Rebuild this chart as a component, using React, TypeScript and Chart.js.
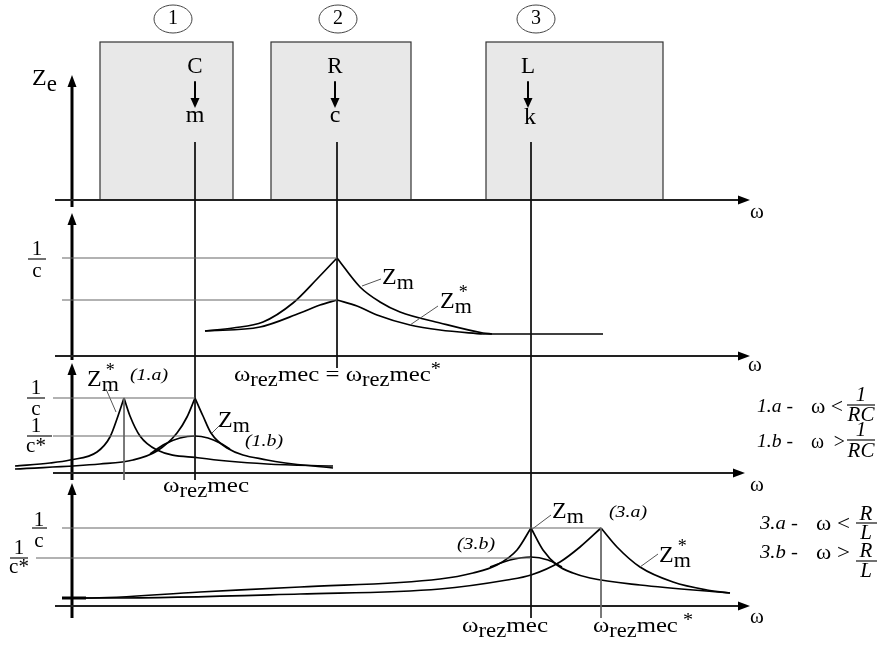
import React, { useEffect, useRef } from "react";
import { Chart, registerables } from "chart.js";
Chart.register(...registerables);

const W = 880;
const H = 645;
const FONT = '"Liberation Serif", "DejaVu Serif", serif';

// ---------- curves: [ω, Z] in diagram units ----------
// Panel 2 (R -> c)
const p2ZmRise = [[205, 331], [233, 328], [263, 322], [293, 303], [317, 279], [337, 258]];
const p2ZmFall = [[337, 258], [360, 287], [380, 302], [400, 312], [440, 323], [483, 333], [492, 334]];
const p2ZsRise = [[205, 331], [260, 327], [300, 313], [320, 305], [337, 300]];
const p2ZsFall = [[337, 300], [357, 306], [377, 315], [410, 325], [440, 330], [483, 334]];
const p2Tail = [[483, 334], [603, 334]];
// Panel 3 (C -> m)
const p3ZsRise = [[15, 466], [50, 463], [70, 460], [97, 452], [110, 437], [118, 416], [124, 398]];
const p3ZsFall = [[124, 398], [130, 416], [140, 436], [157, 450], [200, 458], [267, 464], [333, 466]];
const p3ZmRise = [[15, 469], [100, 464], [133, 460], [157, 451], [177, 433], [187, 417], [195, 398]];
const p3ZmFall = [[195, 398], [203, 416], [211, 433], [227, 448], [267, 460], [333, 468]];
const p3Zs1b = [[150, 454], [165, 444], [180, 438], [195, 436], [208, 438], [220, 443], [230, 449]];
// Panel 4 (L -> k)
const p4ZmRise = [[62, 598], [85, 598], [200, 592], [300, 587], [440, 579], [473, 573], [497, 565], [517, 550], [531, 528]];
const p4ZmFall = [[531, 528], [543, 550], [557, 565], [573, 573], [590, 578], [640, 585], [730, 593]];
const p4Zs3b = [[490, 567], [510, 560], [531, 557], [548, 560], [562, 567]];
const p4ZsRise = [[62, 598], [112, 598], [300, 594], [440, 589], [507, 580], [531, 575], [560, 562], [580, 547], [601, 528]];
const p4ZsFall = [[601, 528], [617, 547], [640, 567], [673, 582], [707, 590], [730, 593]];

const curves = [p2ZmRise, p2ZmFall, p2ZsRise, p2ZsFall, p3ZsRise, p3ZsFall, p3ZmRise, p3ZmFall, p3Zs1b, p4ZmRise, p4ZmFall, p4Zs3b, p4ZsRise, p4ZsFall];
const straightCurves = [p2Tail];

// ---------- straight segments [x1, y1, x2, y2] ----------
const axisVertical = [[72, 207, 72, 85], [72, 360, 72, 223], [72, 480, 72, 373], [72, 618, 72, 493]];
const axisHorizontal = [[55, 200, 742, 200], [55, 356, 742, 356], [53, 473, 737, 473], [55, 606, 742, 606]];
const boxArrows = [[195, 82, 195, 100], [335, 82, 335, 100], [528, 82, 528, 100]];
const guides = [[195, 142, 195, 480], [337, 142, 337, 368], [531, 142, 531, 618]];
const greyGuides = [[124, 398, 124, 480], [601, 528, 601, 618]];
const gridLevels = [[62, 258, 337, 258], [62, 300, 337, 300], [53, 398, 195, 398], [53, 436, 195, 436], [62, 528, 601, 528], [36, 558, 531, 558]];
const leaders = [[362, 286, 381, 279], [410, 325, 438, 306], [116, 412, 106, 389], [212, 433, 220, 425], [531, 530, 551, 515], [640, 567, 658, 554]];
const stubs = [[62, 598, 86, 598]];

// ---------- boxes, circles, arrowheads ----------
const boxes = [[100, 42, 233, 200], [271, 42, 411, 200], [486, 42, 663, 200]];
const circles = [[173, 19, 19, 14], [338, 19, 19, 14], [536, 19, 19, 14]];
const headsRight = [[750, 200], [750, 356], [745, 473], [750, 606]];
const headsUp = [[72, 75], [72, 213], [72, 363], [72, 483]];
const headsDown = [[195, 108], [335, 108], [528, 108]];

// ---------- fractions: [num, den, x, yNum, yBar, yDen, barX1, barX2, italic] ----------
const fractions: [string, string, number, number, number, number, number, number, boolean][] = [
  ["1", "c", 37, 249, 259, 271, 28, 46, false],
  ["1", "c", 36, 388, 398, 409, 27, 45, false],
  ["1", "c*", 36, 426, 436, 446, 27, 52, false],
  ["1", "c", 39, 520, 528, 541, 32, 47, false],
  ["1", "c*", 19, 548, 558, 567, 10, 28, false],
  ["1", "RC", 861, 395, 405, 415, 847, 875, true],
  ["1", "RC", 861, 430, 440, 451, 847, 875, true],
  ["R", "L", 866, 514, 523, 533, 856, 877, true],
  ["R", "L", 866, 551, 561, 571, 856, 877, true],
];

// ---------- texts ----------
type Run = { t: string; s: number; dy?: number; it?: boolean; dx?: number; ov?: boolean };
type Label = { x: number; y: number; runs: Run[]; align?: "left" | "center"; w?: number };
const r = (t: string, s: number, dy = 0, it = false, dx = 0, ov = false): Run => ({ t, s, dy, it, dx, ov });
const omegaRez = (s = 22): Run[] => [r("ω", s), r("rez", s - 2, 6), r("mec", s, 0)];
const zm = (): Run[] => [r("Z", 24), r("m", 22, 5)];
const zmStar = (): Run[] => [r("Z", 24), r("*", 18, -9, false, 4, true), r("m", 22, 5)];

const labels: Label[] = [
  { x: 173, y: 19, runs: [r("1", 20)], align: "center" },
  { x: 338, y: 19, runs: [r("2", 20)], align: "center" },
  { x: 536, y: 19, runs: [r("3", 20)], align: "center" },
  { x: 195, y: 67, runs: [r("C", 23)], align: "center" },
  { x: 195, y: 116, runs: [r("m", 24)], align: "center" },
  { x: 335, y: 67, runs: [r("R", 23)], align: "center" },
  { x: 335, y: 116, runs: [r("c", 24)], align: "center" },
  { x: 528, y: 67, runs: [r("L", 23)], align: "center" },
  { x: 530, y: 118, runs: [r("k", 24)], align: "center" },
  { x: 32, y: 79, runs: [r("Z", 24), r("e", 23, 6)] },
  { x: 757, y: 212, runs: [r("ω", 21)], align: "center" },
  { x: 755, y: 365, runs: [r("ω", 21)], align: "center" },
  { x: 757, y: 485, runs: [r("ω", 21)], align: "center" },
  { x: 757, y: 617, runs: [r("ω", 21)], align: "center" },
  { x: 234, y: 375, runs: [...omegaRez(), r(" = ", 22), ...omegaRez(), r("*", 18, -5)], w: 207 },
  { x: 163, y: 486, runs: omegaRez(), w: 86 },
  { x: 462, y: 626, runs: omegaRez(), w: 86 },
  { x: 593, y: 626, runs: [...omegaRez(), r(" *", 18, -5)], w: 100 },
  { x: 382, y: 278, runs: zm() },
  { x: 440, y: 302, runs: zmStar() },
  { x: 87, y: 380, runs: zmStar() },
  { x: 218, y: 421, runs: zm() },
  { x: 552, y: 512, runs: zm() },
  { x: 659, y: 556, runs: zmStar() },
  { x: 130, y: 376, runs: [r("(1.a)", 17, 0, true)], w: 38 },
  { x: 245, y: 442, runs: [r("(1.b)", 17, 0, true)], w: 38 },
  { x: 609, y: 513, runs: [r("(3.a)", 17, 0, true)], w: 38 },
  { x: 457, y: 545, runs: [r("(3.b)", 17, 0, true)], w: 38 },
  { x: 757, y: 407, runs: [r("1.a -", 19, 0, true)], w: 36 },
  { x: 811, y: 407, runs: [r("ω <", 21)], w: 32 },
  { x: 757, y: 442, runs: [r("1.b -", 19, 0, true)], w: 36 },
  { x: 811, y: 442, runs: [r("ω  >", 21)], w: 34 },
  { x: 760, y: 524, runs: [r("3.a -", 19, 0, true)], w: 38 },
  { x: 816, y: 524, runs: [r("ω <", 21)], w: 34 },
  { x: 760, y: 553, runs: [r("3.b -", 19, 0, true)], w: 38 },
  { x: 816, y: 553, runs: [r("ω >", 21)], w: 34 },
];

const toPts = (a: number[][]) => a.map(([x, y]) => ({ x, y }));
const lineDs = (pts: number[][], width: number, color: string, smooth: boolean) => ({
  data: toPts(pts),
  showLine: true,
  borderColor: color,
  borderWidth: width,
  pointRadius: 0,
  pointHoverRadius: 0,
  fill: false,
  tension: 0,
  cubicInterpolationMode: smooth ? "monotone" : "default",
  borderCapStyle: "butt",
  borderJoinStyle: "round",
});
const segDs = (segs: number[][], width: number, color: string) =>
  segs.map(([x1, y1, x2, y2]) => lineDs([[x1, y1], [x2, y2]], width, color, false));

const font = (run: Run) => `${run.it ? "italic " : ""}${run.s}px ${FONT}`;

const diagramPlugin = {
  id: "diagram",
  beforeDatasetsDraw(chart: any) {
    const { ctx } = chart;
    const xs = chart.scales.x, ys = chart.scales.y;
    const X = (v: number) => xs.getPixelForValue(v);
    const Y = (v: number) => ys.getPixelForValue(v);
    ctx.save();
    for (const [x1, y1, x2, y2] of boxes) {
      const l = X(x1), t = Y(y1), w = X(x2) - l, h = Y(y2) - t;
      ctx.fillStyle = "#e8e8e8";
      ctx.fillRect(l, t, w, h);
      ctx.strokeStyle = "#333";
      ctx.lineWidth = 1.2;
      ctx.strokeRect(l, t, w, h);
    }
    for (const [cx, cy, rx, ry] of circles) {
      ctx.beginPath();
      ctx.ellipse(X(cx), Y(cy), X(cx + rx) - X(cx), Y(cy + ry) - Y(cy), 0, 0, Math.PI * 2);
      ctx.strokeStyle = "#444";
      ctx.lineWidth = 1;
      ctx.stroke();
    }
    ctx.restore();
  },
  afterDatasetsDraw(chart: any) {
    const { ctx } = chart;
    const xs = chart.scales.x, ys = chart.scales.y;
    const X = (v: number) => xs.getPixelForValue(v);
    const Y = (v: number) => ys.getPixelForValue(v);
    ctx.save();
    ctx.fillStyle = "#000";
    const tri = (a: number[], b: number[], c: number[]) => {
      ctx.beginPath();
      ctx.moveTo(a[0], a[1]);
      ctx.lineTo(b[0], b[1]);
      ctx.lineTo(c[0], c[1]);
      ctx.closePath();
      ctx.fill();
    };
    for (const [x, y] of headsRight) {
      const px = X(x), py = Y(y);
      tri([px, py], [px - 12, py - 4.5], [px - 12, py + 4.5]);
    }
    for (const [x, y] of headsUp) {
      const px = X(x), py = Y(y);
      tri([px, py], [px - 4.5, py + 12], [px + 4.5, py + 12]);
    }
    for (const [x, y] of headsDown) {
      const px = X(x), py = Y(y);
      tri([px, py], [px - 4.5, py - 10], [px + 4.5, py - 10]);
    }
    ctx.textBaseline = "middle";
    ctx.textAlign = "center";
    for (const [num, den, x, yn, yb, yd, b1, b2, it] of fractions) {
      ctx.font = `${it ? "italic " : ""}21px ${FONT}`;
      ctx.fillText(num, X(x), Y(yn));
      ctx.fillText(den, X(x), Y(yd));
      ctx.beginPath();
      ctx.moveTo(X(b1), Y(yb));
      ctx.lineTo(X(b2), Y(yb));
      ctx.strokeStyle = "#111";
      ctx.lineWidth = 1.2;
      ctx.stroke();
    }
    ctx.textAlign = "left";
    for (const lb of labels) {
      let total = 0;
      for (const run of lb.runs) {
        ctx.font = font(run);
        if (!run.ov) total += ctx.measureText(run.t).width;
      }
      const k = lb.w ? Math.max(0.75, Math.min(1.35, lb.w / total)) : 1;
      let px = X(lb.x);
      if (lb.align === "center") px -= (total * k) / 2;
      ctx.save();
      ctx.translate(px, Y(lb.y));
      ctx.scale(k, 1);
      let cx = 0;
      for (const run of lb.runs) {
        ctx.font = font(run);
        ctx.fillText(run.t, cx + (run.dx || 0), run.dy || 0);
        if (!run.ov) cx += ctx.measureText(run.t).width;
      }
      ctx.restore();
    }
    ctx.restore();
  },
};

export default function App() {
  const ref = useRef<HTMLCanvasElement | null>(null);
  useEffect(() => {
    if (!ref.current) return;
    const datasets: any[] = [
      ...segDs(gridLevels, 1.2, "#666"),
      ...segDs(guides, 1, "#111"),
      ...segDs(greyGuides, 1, "#666"),
      ...segDs(leaders, 1, "#555"),
      ...curves.map((c) => lineDs(c, 1.7, "#000", true)),
      ...straightCurves.map((c) => lineDs(c, 1.7, "#000", false)),
      ...segDs(stubs, 3, "#000"),
      ...segDs(axisHorizontal, 2, "#222"),
      ...segDs(axisVertical, 3, "#000"),
      ...segDs(boxArrows, 2, "#000"),
    ];
    const chart = new Chart(ref.current, {
      type: "scatter",
      data: { datasets },
      options: {
        responsive: false,
        animation: false,
        devicePixelRatio: 1,
        layout: { padding: 0 },
        events: [],
        plugins: { legend: { display: false }, tooltip: { enabled: false }, title: { display: false } },
        scales: {
          x: { type: "linear", min: 0, max: W, display: false },
          y: { type: "linear", min: 0, max: H, reverse: true, display: false },
        },
      },
      plugins: [diagramPlugin],
    } as any);
    return () => chart.destroy();
  }, []);
  return (
    <div style={{ position: "absolute", left: 0, top: 0, width: W, height: H, background: "#fff" }}>
      <canvas ref={ref} width={W} height={H} style={{ width: W, height: H, display: "block" }} />
    </div>
  );
}
